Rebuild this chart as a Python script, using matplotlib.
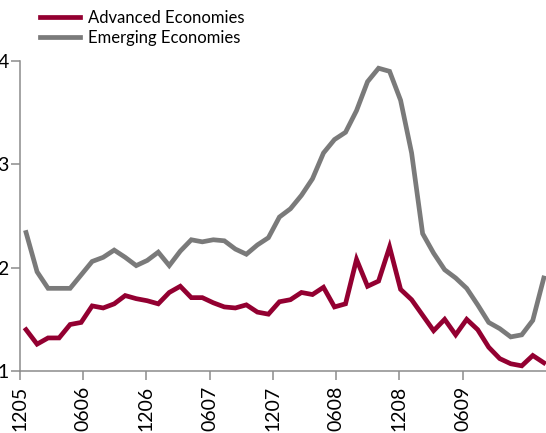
import numpy as np
import matplotlib
matplotlib.use("Agg")
import matplotlib.pyplot as plt

plt.rcParams['font.family'] = ['Lato', 'DejaVu Sans']

# values
advanced = [1.40, 1.26, 1.32, 1.32, 1.45, 1.47, 1.63, 1.61, 1.65, 1.73,
            1.70, 1.68, 1.65, 1.76, 1.82, 1.71, 1.71, 1.66, 1.62, 1.61,
            1.64, 1.57, 1.55, 1.67, 1.69, 1.76, 1.74, 1.81, 1.62, 1.65,
            2.08, 1.82, 1.87, 2.20, 1.79, 1.69, 1.54, 1.39, 1.50, 1.35,
            1.50, 1.40, 1.23, 1.12, 1.07, 1.05, 1.15, 1.08]
emerging = [2.34, 1.96, 1.80, 1.80, 1.80, 1.93, 2.06, 2.10, 2.17, 2.10,
            2.02, 2.07, 2.15, 2.02, 2.16, 2.27, 2.25, 2.27, 2.26, 2.18,
            2.13, 2.22, 2.29, 2.49, 2.57, 2.70, 2.86, 3.11, 3.24, 3.31,
            3.52, 3.80, 3.93, 3.90, 3.62, 3.11, 2.33, 2.14, 1.98, 1.90,
            1.80, 1.64, 1.47, 1.41, 1.33, 1.35, 1.49, 1.90]
tick_labels = ['1205', '0606', '1206', '0607', '1207', '0608', '1208', '0609']
y_ticks = [1, 2, 3, 4]

red = '#930031'
grey = '#7a7a7a'
axis_col = '#8c8c8c'

x = np.arange(len(advanced))
tick_pos = -0.55 + 5.74 * np.arange(len(tick_labels))

fig = plt.figure(figsize=(5.46, 4.33), dpi=100)
ax = fig.add_axes([20 / 546, 62 / 433, 526 / 546, 310 / 433])

ax.plot(x, advanced, color=red, lw=3.4, solid_joinstyle='miter',
        label='Advanced Economies')
ax.plot(x, emerging, color=grey, lw=3.4, solid_joinstyle='miter',
        label='Emerging Economies')

ax.set_xlim(-0.55, 47.2)
ax.set_ylim(1, 4)
ax.set_xticks(tick_pos)
ax.set_xticklabels(tick_labels, rotation=90, fontsize=14)
ax.set_yticks(y_ticks)
ax.set_yticklabels([str(v) for v in y_ticks], fontsize=14)

for side in ['top', 'right']:
    ax.spines[side].set_visible(False)
for side in ['left', 'bottom']:
    ax.spines[side].set_color(axis_col)
    ax.spines[side].set_linewidth(1.1)
ax.tick_params(axis='y', length=6.5, width=1.1, color=axis_col, pad=1.5)
ax.tick_params(axis='x', length=6.5, width=1.1, color=axis_col, pad=4.3)

fig.legend(loc='upper left', bbox_to_anchor=(30 / 546, 1.0), frameon=False,
           fontsize=12, handlelength=2.4, handletextpad=0.5, labelspacing=0.25,
           borderaxespad=0.2)

fig.savefig('out.png', dpi=100)
